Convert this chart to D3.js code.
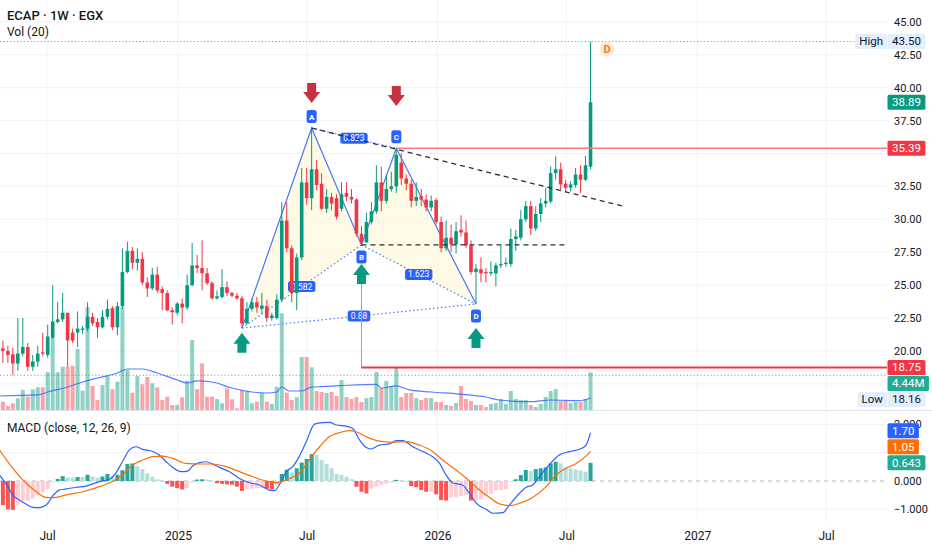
<!DOCTYPE html>
<html>
<head>
<meta charset="utf-8">
<script src="https://cdn.jsdelivr.net/npm/d3@7"></script>
<style>
html, body { margin: 0; padding: 0; background: #fff; }
svg { display: block; font-family: Roboto, 'Liberation Sans', sans-serif; }
</style>
</head>
<body>
<svg id="chart" width="932" height="550"></svg>
<script>
const firstWeek = new Date(2024, 3, 30);

const opens = [20.2, 20.0, 19.75, 19.05, 19.8, 20.3, 18.8, 19.2, 19.9, 19.7,
    21.0, 22.2, 22.4, 22.9, 21.4, 21.4, 21.6, 21.7, 22.6, 22.2,
    21.8, 22.6, 23.25, 21.8, 23.4, 26.0, 27.6, 26.7, 27.0, 25.2,
    24.75, 25.8, 24.7, 24.4, 23.1, 22.9, 23.6, 23.3, 25.0, 26.5,
    26.3, 25.9, 25.15, 24.0, 24.1, 24.85, 24.4, 24.2, 24.0, 22.1,
    23.2, 23.7, 23.2, 23.4, 22.5, 22.5, 23.9, 29.9, 27.8, 24.4,
    27.1, 32.8, 31.6, 33.8, 32.7, 30.8, 31.7, 31.6, 30.8, 32.0,
    31.7, 31.5, 28.9, 28.25, 29.8, 30.6, 32.8, 31.4, 32.3, 32.5,
    34.3, 33.1, 32.7, 31.4, 31.75, 31.5, 30.9, 31.45, 29.8, 27.8,
    28.6, 28.1, 29.2, 29.0, 28.0, 26.0, 26.2, 26.0, 25.9, 25.9,
    26.5, 26.6, 26.6, 28.5, 28.6, 30.0, 31.0, 29.3, 30.4, 31.2,
    31.35, 33.5, 33.8, 32.7, 32.4, 32.6, 33.4, 33.0, 34.0];
const highs = [20.8, 20.4, 20.25, 22.5, 22.5, 20.6, 19.7, 20.4, 21.4, 22.0,
    25.0, 23.7, 24.4, 22.9, 21.7, 23.0, 21.9, 23.7, 22.9, 22.5,
    23.1, 23.9, 23.4, 23.7, 27.8, 28.3, 27.9, 27.8, 27.5, 25.6,
    26.3, 26.4, 24.9, 24.6, 23.3, 23.7, 24.0, 25.8, 28.2, 27.3,
    28.4, 26.3, 25.3, 24.6, 26.2, 25.3, 24.5, 24.4, 24.2, 23.7,
    24.0, 24.1, 24.4, 23.9, 22.9, 24.3, 31.3, 31.3, 28.0, 27.4,
    33.9, 33.9, 36.93, 34.5, 33.5, 32.3, 32.0, 31.9, 32.8, 32.8,
    32.3, 31.6, 29.5, 30.5, 31.3, 34.1, 34.0, 33.4, 33.6, 35.39,
    35.0, 33.4, 33.0, 32.8, 32.3, 31.9, 31.8, 31.6, 30.2, 29.9,
    29.6, 29.8, 30.3, 29.9, 28.4, 26.6, 27.1, 26.3, 26.8, 26.7,
    28.0, 27.1, 29.3, 29.2, 30.7, 31.4, 31.4, 31.0, 31.6, 32.4,
    34.0, 34.8, 34.3, 33.0, 32.9, 33.9, 34.1, 34.8, 43.5];
const lows = [19.1, 19.1, 18.16, 18.5, 19.6, 18.5, 18.5, 18.8, 19.6, 19.5,
    20.9, 22.1, 22.2, 18.8, 20.6, 20.3, 21.3, 21.5, 21.9, 21.0,
    21.7, 22.4, 21.6, 21.2, 23.2, 25.9, 26.2, 26.1, 25.0, 24.1,
    24.6, 24.4, 23.1, 23.0, 22.0, 22.7, 22.1, 23.1, 24.9, 25.9,
    24.6, 25.0, 23.9, 23.9, 24.0, 24.2, 24.1, 23.9, 21.74, 22.0,
    23.0, 22.9, 22.8, 22.2, 22.3, 22.4, 23.7, 27.5, 23.7, 23.1,
    26.9, 31.1, 30.7, 32.2, 30.7, 30.5, 30.7, 30.0, 30.6, 31.4,
    31.2, 28.7, 28.05, 28.2, 29.6, 30.4, 30.6, 31.2, 32.1, 32.0,
    32.6, 32.2, 30.9, 31.0, 31.0, 30.6, 30.6, 29.6, 27.5, 27.6,
    27.5, 27.4, 28.7, 27.8, 25.8, 23.57, 25.2, 25.2, 25.7, 24.9,
    26.3, 26.4, 26.4, 27.6, 28.4, 29.8, 28.8, 29.1, 29.8, 30.9,
    31.2, 33.0, 32.2, 32.1, 32.1, 32.4, 32.0, 32.9, 33.8];
const closes = [20.0, 19.7, 19.05, 19.8, 20.3, 18.8, 19.2, 19.8, 19.8, 21.1,
    22.25, 22.4, 22.9, 20.8, 20.8, 21.7, 21.7, 22.6, 22.1, 21.8,
    22.6, 23.2, 21.8, 23.4, 26.0, 27.6, 26.7, 27.0, 25.2, 24.75,
    25.8, 24.6, 24.4, 23.1, 22.95, 23.6, 23.3, 25.0, 26.5, 26.3,
    25.9, 25.15, 24.0, 24.15, 24.85, 24.4, 24.2, 24.0, 22.1, 23.2,
    23.7, 23.3, 23.45, 22.5, 22.7, 23.9, 29.9, 27.8, 24.4, 27.1,
    32.8, 31.6, 33.8, 32.6, 30.8, 31.7, 31.2, 30.2, 31.9, 31.7,
    31.5, 28.9, 28.25, 29.8, 30.6, 32.8, 31.4, 32.3, 32.5, 34.9,
    33.1, 32.7, 31.4, 31.7, 31.5, 30.9, 31.4, 29.8, 27.8, 28.6,
    28.1, 29.1, 29.0, 28.0, 26.0, 26.25, 25.9, 25.9, 26.0, 26.5,
    26.6, 26.7, 28.5, 28.7, 30.0, 31.0, 29.3, 30.4, 31.2, 31.4,
    33.5, 33.8, 32.65, 32.4, 32.65, 33.4, 33.0, 34.1, 38.89];

// millions of shares
const volumes = [0.98, 0.47, 0.79, 1.38, 2.36, 1.57, 2.44, 2.67, 2.67, 4.44,
    8.45, 4.44, 5.10, 5.10, 5.22, 7.18, 2.27, 12.1, 2.83, 1.18,
    2.94, 4.0, 2.44, 3.33, 12.1, 4.71, 2.04, 4.0, 3.03, 3.89,
    3.14, 2.67, 1.18, 1.57, 0.59, 0.59, 1.50, 3.45, 8.24, 2.47,
    5.50, 1.57, 1.57, 1.30, 0.79, 2.56, 1.26, 0.2, 2.36, 2.16,
    0.79, 0.98, 2.04, 0.98, 0.71, 2.74, 11.4, 2.04, 1.18, 1.50,
    6.24, 6.24, 5.03, 2.24, 2.12, 2.0, 2.12, 1.65, 3.53, 1.53,
    1.30, 1.53, 0.94, 1.41, 1.53, 4.48, 2.59, 3.42, 2.83, 4.95,
    1.53, 2.0, 2.0, 1.41, 1.18, 1.41, 1.41, 0.94, 0.94, 0.59,
    0.47, 0.82, 2.83, 1.30, 1.06, 0.59, 0.59, 0.35, 0.71, 0.82,
    1.30, 0.71, 2.24, 1.30, 1.18, 1.18, 0.59, 0.35, 0.71, 1.53,
    2.24, 2.47, 1.06, 1.06, 0.82, 0.94, 0.94, 1.30, 4.44];

// [week index, value]
const volumeMA = [[-0.7, 1.65], [7, 1.77], [9, 2.12], [13, 2.71], [16, 3.30], [19, 3.77],
    [23, 4.36], [25, 4.83], [28, 4.83], [31, 4.36], [35, 3.53], [37, 3.18], [39, 3.42],
    [42, 3.30], [46, 2.59], [50, 2.12], [53, 2.0], [55, 2.12], [56, 2.71], [57.5, 2.24],
    [60, 2.24], [62, 2.7], [64, 2.75], [67.6, 2.86], [75, 3.03], [76, 2.59], [79, 2.83],
    [81.6, 2.36], [86, 2.12], [91.7, 1.88], [97, 1.53], [99.6, 1.18], [106, 0.98],
    [110, 1.18], [115.8, 1.10], [118, 1.41]];

const macdLine = [[-0.7, 0.21], [1, -0.2], [2, -0.5], [3.3, -0.67], [4.7, -0.82], [6, -0.93],
    [7.3, -0.94], [8.7, -0.85], [10, -0.53], [11.3, -0.32], [12.7, -0.28], [14.7, -0.22],
    [16.7, -0.18], [19.4, -0.02], [21.4, 0.06], [22.7, 0.29], [24, 0.68], [25.4, 1.10],
    [26.7, 1.21], [28.1, 1.12], [30.1, 1.04], [31.4, 0.92], [32.8, 0.68], [34.1, 0.48],
    [35.8, 0.33], [37.1, 0.35], [38.1, 0.53], [39.5, 0.65], [40.8, 0.68], [42.1, 0.60],
    [43.5, 0.48], [45.5, 0.33], [47.5, 0.09], [49.5, -0.06], [51.5, -0.14], [53.5, -0.32],
    [54.5, -0.34], [55.5, -0.14], [56.9, 0.33], [58.2, 0.51], [59.5, 0.86], [60.9, 1.38],
    [62.6, 2.01], [64.2, 2.06], [65.6, 2.07], [66.9, 1.98], [68.9, 1.94], [70.2, 1.86],
    [71.6, 1.45], [72.9, 1.19], [73.9, 1.13], [75.6, 1.27], [77.6, 1.31], [79, 1.43],
    [80.3, 1.43], [82.3, 1.21], [84.3, 1.04], [86.3, 0.86], [87.7, 0.62], [89, 0.21],
    [90.3, -0.06], [92.3, -0.14], [93.7, -0.44], [95, -0.77], [97, -1.0], [98.4, -1.14],
    [100.4, -1.12], [101.7, -0.85], [103.7, -0.44], [105.1, -0.22], [106.4, -0.14],
    [107.7, 0.15], [109.7, 0.57], [111.7, 0.92], [113.8, 1.04], [115.8, 1.12],
    [117.1, 1.27], [118, 1.70]];
const signalLine = [[-0.7, 1.10], [2, 0.45], [4.7, -0.08], [6.7, -0.38], [8.7, -0.58],
    [10, -0.59], [12.7, -0.49], [16, -0.38], [19.4, -0.2], [22, -0.02], [24, 0.21],
    [26.1, 0.57], [28.1, 0.74], [30.1, 0.86], [32.1, 0.88], [34.1, 0.80], [36.8, 0.62],
    [39.5, 0.60], [42.1, 0.60], [44.8, 0.51], [47.5, 0.33], [50.2, 0.15], [52.8, 0],
    [54.9, -0.06], [56.9, 0.04], [58.9, 0.2], [59.7, 0.3], [61.5, 0.74], [63.6, 1.21],
    [65.6, 1.57], [67.6, 1.71], [69.6, 1.78], [70.9, 1.74], [72.9, 1.57], [75.6, 1.41],
    [78.3, 1.37], [81, 1.39], [83.6, 1.27], [86.3, 1.04], [88.3, 0.74], [91, 0.39],
    [93.7, 0], [95.7, -0.32], [97.7, -0.58], [99.7, -0.81], [101.7, -0.87], [103.7, -0.79],
    [106.4, -0.58], [109.1, -0.2], [111.1, 0.21], [113.1, 0.45], [115.1, 0.62],
    [117.1, 0.88], [118, 1.05]];
const histogram = [-0.85, -1.0, -1.02, -0.85, -0.72, -0.7, -0.62, -0.5, -0.4, -0.28,
    -0.05, 0.07, 0.17, 0.12, 0.12, 0.14, 0.14, 0.22, 0.16, 0.12,
    0.16, 0.25, 0.17, 0.22, 0.38, 0.6, 0.62, 0.52, 0.42, 0.27,
    0.15, 0.06, 0.02, -0.1, -0.2, -0.25, -0.3, -0.25, -0.05, 0.05,
    0.06, 0.05, 0.02, -0.08, -0.1, -0.12, -0.13, -0.2, -0.35, -0.3,
    -0.27, -0.25, -0.25, -0.27, -0.3, -0.15, 0.25, 0.4, 0.3, 0.45,
    0.65, 0.78, 0.95, 0.92, 0.74, 0.6, 0.45, 0.25, 0.21, 0.15,
    0.07, -0.2, -0.38, -0.44, -0.26, -0.2, -0.14, -0.1, -0.06, 0.04,
    0.01, -0.01, -0.18, -0.22, -0.32, -0.38, -0.38, -0.47, -0.67, -0.69,
    -0.58, -0.58, -0.53, -0.49, -0.69, -0.69, -0.65, -0.53, -0.46, -0.34,
    -0.32, -0.29, -0.03, 0.06, 0.21, 0.39, 0.35, 0.42, 0.45, 0.48,
    0.62, 0.68, 0.62, 0.48, 0.45, 0.41, 0.37, 0.33, 0.643];

const priceTicks = [45, 42.5, 40, 37.5, 32.5, 30, 27.5, 25, 22.5, 20];
const priceGrid = [45, 42.5, 40, 37.5, 35, 32.5, 30, 27.5, 25, 22.5, 20, 17.5];
const macdTicks = [2, 0, -1];
const macdGrid = [2, 1, -1];
const timeTickDates = [new Date(2024, 6, 1), new Date(2025, 0, 1), new Date(2025, 6, 1),
    new Date(2026, 0, 1), new Date(2026, 6, 1), new Date(2027, 0, 1), new Date(2027, 6, 1)];
const timeTickLabels = ['Jul', '2025', 'Jul', '2026', 'Jul', '2027', 'Jul'];

// XABCD pattern
const patternNames = ['X', 'A', 'B', 'C', 'D'];
const patternWeeks = [48, 62, 72, 79, 95];
const patternPrices = [21.74, 36.93, 28.05, 35.39, 23.57];
const ratioLabels = ['0.582', '0.823', '1.623', '0.88'];
const arrowsDown = [[62, 38.83], [79, 38.6]];
const arrowsUp = [[48, 21.39], [72, 26.6], [95, 21.74]];
const trendLine = [[62, 36.93], [125, 30.95]];
const supportLine = [[72, 28.05], [113, 28.05]];
const resistanceLevel = 35.39;
const stopLevel = 18.75;
const stopTop = 26.15;
const targetMark = [121.3, 42.93];


const up = '#089981', down = '#f23645';

function weekX(s, i) {
    return s.x(new Date(firstWeek.getTime() + i * 7 * 864e5));
}

function drawGrid(s) {
    let g = s.svg.append('g');
    g.selectAll('.hp').data(priceGrid).join('line')
        .attr('x1', 0).attr('x2', s.plotRight)
        .attr('y1', d => s.yPrice(d)).attr('y2', d => s.yPrice(d))
        .style('stroke', '#f0f3fa');
    g.selectAll('.hm').data(macdGrid).join('line')
        .attr('x1', 0).attr('x2', s.plotRight)
        .attr('y1', d => s.yMacd(d)).attr('y2', d => s.yMacd(d))
        .style('stroke', '#f0f3fa');
    g.selectAll('.v').data(timeTickDates).join('line')
        .attr('x1', d => s.x(d)).attr('x2', d => s.x(d))
        .attr('y1', 0).attr('y2', s.macdBottom)
        .style('stroke', '#f0f3fa');
}

function drawPattern(s) {
    let pts = patternWeeks.map((w, k) => [weekX(s, w), s.yPrice(patternPrices[k])]);
    let g = s.price.append('g');

    g.selectAll('path.fill').data([[0, 1, 2], [2, 3, 4]]).join('path')
        .attr('d', d => 'M' + d.map(k => pts[k].join(',')).join('L') + 'Z')
        .style('fill', '#fff6d5')
        .style('fill-opacity', 0.6);

    g.append('path')
        .attr('d', 'M' + pts.map(p => p.join(',')).join('L'))
        .style('fill', 'none')
        .style('stroke', '#4a78f5')
        .style('stroke-width', 1.2);

    let dotted = [[0, 2], [1, 3], [2, 4], [0, 4]];
    g.selectAll('line.dot').data(dotted).join('line')
        .attr('x1', d => pts[d[0]][0]).attr('y1', d => pts[d[0]][1])
        .attr('x2', d => pts[d[1]][0]).attr('y2', d => pts[d[1]][1])
        .style('stroke', '#4a78f5')
        .style('stroke-width', 1.2)
        .style('stroke-dasharray', '1.5,2.5');

    dotted.forEach((d, k) => {
        let cx = (pts[d[0]][0] + pts[d[1]][0]) / 2;
        let cy = (pts[d[0]][1] + pts[d[1]][1]) / 2;
        let t = g.append('text')
            .text(ratioLabels[k])
            .attr('x', cx).attr('y', cy + 3)
            .attr('text-anchor', 'middle')
            .attr('font-size', 8.5)
            .attr('fill', '#fff');
        let w = t.node().getComputedTextLength() + 6;
        g.insert('rect', 'text')
            .attr('x', cx - w / 2).attr('y', cy - 5.5)
            .attr('width', w).attr('height', 11).attr('rx', 2.5)
            .style('fill', '#2962ff');
    });
}

function drawPointLabels(s) {
    let g = s.price.append('g');
    patternNames.forEach((n, k) => {
        if (k === 0) return;
        let px = weekX(s, patternWeeks[k]);
        let py = s.yPrice(patternPrices[k]) + (k % 2 ? -11.5 : 12);
        g.append('rect')
            .attr('x', px - 5).attr('y', py - 6.5)
            .attr('width', 10).attr('height', 13).attr('rx', 2.5)
            .style('fill', '#2962ff');
        g.append('text')
            .text(n)
            .attr('x', px).attr('y', py + 3)
            .attr('text-anchor', 'middle')
            .attr('font-size', 8)
            .attr('font-weight', 'bold')
            .attr('fill', '#fff');
    });
}

function drawVolume(s) {
    s.price.append('g').selectAll('rect').data(volumes).join('rect')
        .attr('x', (d, i) => weekX(s, i) - 2)
        .attr('width', 4)
        .attr('y', d => s.yVol(d))
        .attr('height', d => s.yVol(0) - s.yVol(d))
        .style('fill', (d, i) => closes[i] >= opens[i] ? up : down)
        .style('fill-opacity', 0.45);

    s.price.append('path')
        .datum(volumeMA)
        .attr('d', d3.line().x(d => weekX(s, d[0])).y(d => s.yVol(d[1])).curve(d3.curveMonotoneX))
        .style('fill', 'none')
        .style('stroke', '#2962ff')
        .style('stroke-opacity', 0.8)
        .style('stroke-width', 1.2);
}

function drawCandles(s) {
    let g = s.price.append('g');
    let color = i => closes[i] >= opens[i] ? up : down;
    g.selectAll('line').data(opens).join('line')
        .attr('x1', (d, i) => weekX(s, i)).attr('x2', (d, i) => weekX(s, i))
        .attr('y1', (d, i) => s.yPrice(highs[i]))
        .attr('y2', (d, i) => s.yPrice(lows[i]))
        .style('stroke', (d, i) => color(i))
        .style('stroke-width', 1);
    g.selectAll('rect').data(opens).join('rect')
        .attr('x', (d, i) => weekX(s, i) - 1.8)
        .attr('width', 3.6)
        .attr('y', (d, i) => s.yPrice(Math.max(d, closes[i])))
        .attr('height', (d, i) => Math.max(1, Math.abs(s.yPrice(d) - s.yPrice(closes[i]))))
        .style('fill', (d, i) => color(i));
}

function arrowPath(cx, tipY, dir) {
    let headW = 8.5, shaftW = 4.5, headH = 11, len = 20;
    let base = tipY - dir * headH, tail = tipY - dir * len;
    return 'M' + cx + ',' + tipY + 'L' + (cx - headW) + ',' + base + 'L' + (cx - shaftW) + ',' + base +
        'L' + (cx - shaftW) + ',' + tail + 'L' + (cx + shaftW) + ',' + tail +
        'L' + (cx + shaftW) + ',' + base + 'L' + (cx + headW) + ',' + base + 'Z';
}

function drawDrawings(s) {
    let g = s.price.append('g');

    //trend line through A and C
    g.append('line')
        .attr('x1', weekX(s, trendLine[0][0])).attr('y1', s.yPrice(trendLine[0][1]))
        .attr('x2', weekX(s, trendLine[1][0])).attr('y2', s.yPrice(trendLine[1][1]))
        .style('stroke', '#2a2e39').style('stroke-width', 1.3).style('stroke-dasharray', '5,4');

    g.append('line')
        .attr('x1', weekX(s, supportLine[0][0])).attr('y1', s.yPrice(supportLine[0][1]))
        .attr('x2', weekX(s, supportLine[1][0])).attr('y2', s.yPrice(supportLine[1][1]))
        .style('stroke', '#2a2e39').style('stroke-width', 1.3).style('stroke-dasharray', '5,4');

    //resistance at C
    g.append('line')
        .attr('x1', weekX(s, patternWeeks[3])).attr('x2', s.plotRight)
        .attr('y1', s.yPrice(resistanceLevel)).attr('y2', s.yPrice(resistanceLevel))
        .style('stroke', '#f77c80').style('stroke-width', 1.5);

    //stop level from B
    let bx = weekX(s, patternWeeks[2]);
    g.append('line')
        .attr('x1', bx).attr('x2', bx)
        .attr('y1', s.yPrice(stopTop)).attr('y2', s.yPrice(stopLevel))
        .style('stroke', '#f77c80').style('stroke-width', 1);
    g.append('line')
        .attr('x1', bx).attr('x2', s.plotRight)
        .attr('y1', s.yPrice(stopLevel)).attr('y2', s.yPrice(stopLevel))
        .style('stroke', '#f23645').style('stroke-width', 2);

    g.selectAll('path.dn').data(arrowsDown).join('path')
        .attr('d', d => arrowPath(weekX(s, d[0]), s.yPrice(d[1]), 1))
        .style('fill', '#c8323f');
    g.selectAll('path.up').data(arrowsUp).join('path')
        .attr('d', d => arrowPath(weekX(s, d[0]), s.yPrice(d[1]), -1))
        .style('fill', up);

    let tx = weekX(s, targetMark[0]), ty = s.yPrice(targetMark[1]);
    g.append('circle')
        .attr('cx', tx).attr('cy', ty).attr('r', 7.5)
        .style('fill', '#fde8da');
    g.append('text')
        .text('D')
        .attr('x', tx).attr('y', ty + 4)
        .attr('text-anchor', 'middle')
        .attr('font-size', 11)
        .attr('font-weight', 'bold')
        .attr('fill', '#f57c2a');
}

function drawHighLow(s) {
    let hi = d3.max(highs), lo = d3.min(lows);
    s.svg.append('line')
        .attr('x1', 0).attr('x2', s.plotRight - 26)
        .attr('y1', s.yPrice(hi)).attr('y2', s.yPrice(hi))
        .style('stroke', '#9598a1').style('stroke-dasharray', '1.2,2.2');
    s.svg.append('line')
        .attr('x1', 0).attr('x2', s.plotRight)
        .attr('y1', s.yPrice(lo)).attr('y2', s.yPrice(lo))
        .style('stroke', '#9598a1').style('stroke-dasharray', '1.2,2.2');
}

function drawMacd(s) {
    let g = s.macd.append('g');
    g.append('line')
        .attr('x1', 0).attr('x2', s.plotRight)
        .attr('y1', s.yMacd(0)).attr('y2', s.yMacd(0))
        .style('stroke', '#b2b5be').style('stroke-dasharray', '4,4');

    g.selectAll('rect').data(histogram).join('rect')
        .attr('x', (d, i) => weekX(s, i) - 2)
        .attr('width', 4)
        .attr('y', d => s.yMacd(Math.max(0, d)))
        .attr('height', d => Math.abs(s.yMacd(0) - s.yMacd(d)))
        .style('fill', (d, i) => {
            let prev = i > 0 ? histogram[i - 1] : d;
            if (d >= 0) return d > prev || i === 0 ? '#26a69a' : '#b2dfdb';
            return d < prev || i === 0 ? '#ff5252' : '#ffcdd2';
        });

    let line = d3.line().x(d => weekX(s, d[0])).y(d => s.yMacd(d[1])).curve(d3.curveMonotoneX);
    g.append('path').datum(macdLine).attr('d', line)
        .style('fill', 'none').style('stroke', '#2962ff').style('stroke-width', 1.2);
    g.append('path').datum(signalLine).attr('d', line)
        .style('fill', 'none').style('stroke', '#ff6d00').style('stroke-width', 1.2);
}

function styleAxis(g, size) {
    g.select('.domain').remove();
    g.selectAll('text')
        .attr('font-family', 'Roboto, sans-serif')
        .attr('font-size', size)
        .attr('fill', '#131722');
}

function drawAxes(s) {
    s.svg.append('g')
        .attr('transform', 'translate(' + s.plotRight + ',0)')
        .call(d3.axisRight(s.yPrice).tickValues(priceTicks).tickSize(0).tickPadding(7).tickFormat(d3.format('.2f')))
        .call(g => styleAxis(g, 11));
    s.svg.append('g')
        .attr('transform', 'translate(' + s.plotRight + ',0)')
        .call(d3.axisRight(s.yMacd).tickValues(macdTicks).tickSize(0).tickPadding(7).tickFormat(d3.format('.3f')))
        .call(g => styleAxis(g, 11));
    s.svg.append('g')
        .attr('transform', 'translate(0,' + s.macdBottom + ')')
        .call(d3.axisBottom(s.x).tickValues(timeTickDates).tickSize(0).tickPadding(9).tickFormat((d, i) => timeTickLabels[i]))
        .call(g => styleAxis(g, 12));

    //pane separator
    s.svg.append('line')
        .attr('x1', 0).attr('x2', s.width)
        .attr('y1', s.priceBottom + 0.5).attr('y2', s.priceBottom + 0.5)
        .style('stroke', '#e0e3eb');
}

function stackTags(tags, dir) {
    if (dir > 0) {
        for (let k = 1; k < tags.length; k++) {
            tags[k].y = Math.max(tags[k].y, tags[k - 1].y + 16);
        }
    } else {
        for (let k = tags.length - 2; k >= 0; k--) {
            tags[k].y = Math.min(tags[k].y, tags[k + 1].y - 16);
        }
    }
    return tags;
}

function drawTag(s, tag) {
    let g = s.svg.append('g');
    let t = g.append('text')
        .text(tag.text)
        .attr('x', s.plotRight + 5).attr('y', tag.y + 4)
        .attr('font-size', 11.5)
        .attr('fill', tag.fg);
    let w = t.node().getComputedTextLength() + 9;
    g.insert('rect', 'text')
        .attr('x', s.plotRight + 0.5).attr('y', tag.y - 7.5)
        .attr('width', w).attr('height', 15).attr('rx', 1.5)
        .style('fill', tag.bg);
    if (tag.side) {
        let st = g.append('text')
            .text(tag.side)
            .attr('x', s.plotRight - 4).attr('y', tag.y + 4)
            .attr('text-anchor', 'end')
            .attr('font-size', 11.5)
            .attr('fill', '#131722');
        let sw = st.node().getComputedTextLength() + 8;
        g.insert('rect', 'text')
            .attr('x', s.plotRight - sw).attr('y', tag.y - 7.5)
            .attr('width', sw).attr('height', 15)
            .style('fill', '#e3effd');
    }
}

function drawTags(s) {
    let last = closes.length - 1;
    let f2 = d3.format('.2f');
    let hi = d3.max(highs), lo = d3.min(lows);
    let lightBlue = '#e3effd';

    drawTag(s, {y: s.yPrice(hi), text: f2(hi), bg: lightBlue, fg: '#131722', side: 'High'});
    drawTag(s, {y: s.yPrice(closes[last]), text: f2(closes[last]), bg: up, fg: '#fff'});
    drawTag(s, {y: s.yPrice(resistanceLevel), text: f2(resistanceLevel), bg: down, fg: '#fff'});

    let low = stackTags([
        {y: s.yPrice(stopLevel), text: f2(stopLevel), bg: down, fg: '#fff'},
        {y: s.yVol(volumes[last]), text: f2(volumes[last]) + 'M', bg: '#22ab94', fg: '#fff'},
        {y: s.yPrice(lo), text: f2(lo), bg: lightBlue, fg: '#131722', side: 'Low'}
    ], 1);
    low.forEach(t => drawTag(s, t));

    let m = stackTags([
        {y: s.yMacd(macdLine[macdLine.length - 1][1]), text: f2(macdLine[macdLine.length - 1][1]), bg: '#2962ff', fg: '#fff'},
        {y: s.yMacd(signalLine[signalLine.length - 1][1]), text: f2(signalLine[signalLine.length - 1][1]), bg: '#ff6d00', fg: '#fff'},
        {y: s.yMacd(histogram[last]), text: d3.format('.3f')(histogram[last]), bg: '#22ab94', fg: '#fff'}
    ], -1);
    m.forEach(t => drawTag(s, t));
}

function drawLegend(s) {
    s.svg.append('text')
        .text('ECAP · 1W · EGX')
        .attr('x', 7).attr('y', 20)
        .attr('font-size', 13)
        .attr('font-weight', 500)
        .attr('fill', '#131722');
    s.svg.append('text')
        .text('Vol (20)')
        .attr('x', 7).attr('y', 36)
        .attr('font-size', 12)
        .attr('fill', '#131722');
    s.svg.append('text')
        .text('MACD (close, 12, 26, 9)')
        .attr('x', 7).attr('y', 432)
        .attr('font-size', 12)
        .attr('fill', '#131722');
}

function drawChart() {
    let s = {
        width: 932,
        plotRight: 887,
        priceBottom: 410,
        macdBottom: 522
    };
    s.svg = d3.select('#chart');
    s.x = d3.scaleTime()
        .domain([new Date(2024, 6, 1), new Date(2027, 6, 1)])
        .range([47, 826]);
    s.yPrice = d3.scaleLinear().domain([15.52, 46.65]).range([s.priceBottom, 0]);
    s.yVol = d3.scaleLinear().domain([0, 10]).range([s.priceBottom, s.priceBottom - 84.9]);
    s.yMacd = d3.scaleLinear().domain([-1, 0]).range([509.3, 481]);

    let defs = s.svg.append('defs');
    defs.append('clipPath').attr('id', 'clipPrice')
        .append('rect').attr('x', 0).attr('y', 0).attr('width', s.plotRight).attr('height', s.priceBottom);
    defs.append('clipPath').attr('id', 'clipMacd')
        .append('rect').attr('x', 0).attr('y', s.priceBottom).attr('width', s.plotRight).attr('height', s.macdBottom - s.priceBottom);

    drawGrid(s);
    drawHighLow(s);

    s.price = s.svg.append('g').attr('clip-path', 'url(#clipPrice)');
    s.macd = s.svg.append('g').attr('clip-path', 'url(#clipMacd)');

    drawPattern(s);
    drawVolume(s);
    drawCandles(s);
    drawPointLabels(s);
    drawDrawings(s);
    drawMacd(s);
    drawAxes(s);
    drawLegend(s);
    drawTags(s);
}

drawChart();
</script>
</body>
</html>
